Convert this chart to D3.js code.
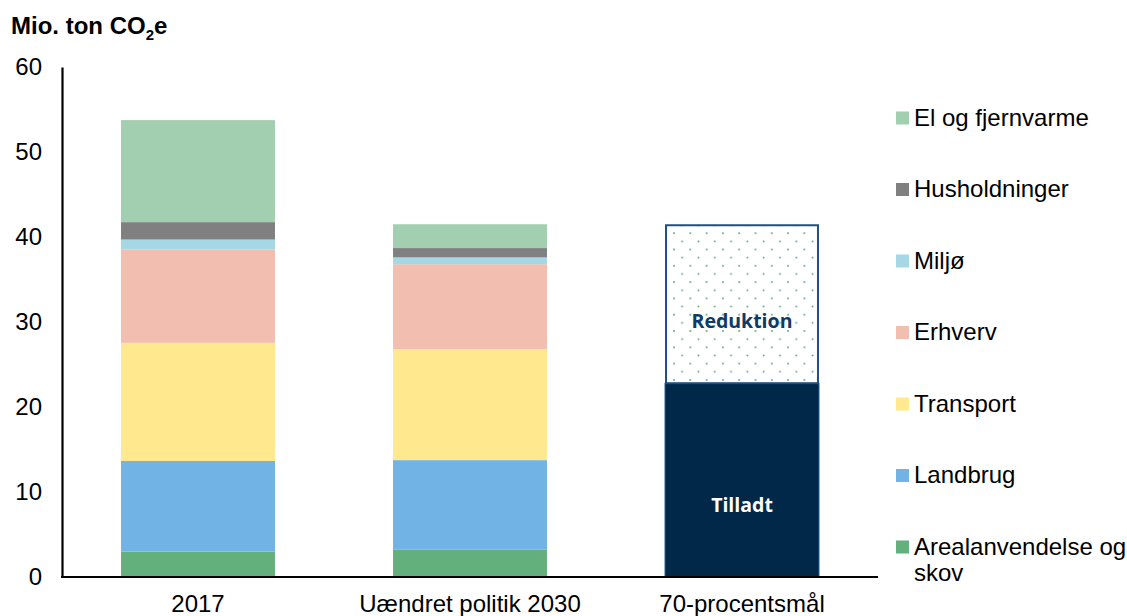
<!DOCTYPE html>
<html>
<head>
<meta charset="utf-8">
<script src="https://cdn.jsdelivr.net/npm/d3@7"></script>
<style>
  body { margin: 0; background: #fff; }
  svg { display: block; }
</style>
</head>
<body>
<svg id="chart" width="1127" height="616"></svg>
<script>
// Emission categories (x axis)
const categories = ["2017", "Uændret politik 2030", "70-procentsmål"];

// Sector series, bottom to top of the stack (Mio. ton CO2e)
const sectors = ["Arealanvendelse og skov", "Landbrug", "Transport", "Erhverv", "Miljø", "Husholdninger", "El og fjernvarme"];
const sectorColors = ["#63b07d", "#72b3e5", "#ffe88e", "#f2beb0", "#a6d7e4", "#808080", "#a2cfb0"];
const arealanvendelse = [3.0, 3.2];
const landbrug = [10.65, 10.55];
const transport = [13.9, 13.05];
const erhverv = [11.0, 10.0];
const miljo = [1.15, 0.8];
const husholdninger = [2.05, 1.1];
const elFjernvarme = [12.0, 2.8];

// Target bar: allowed emissions and required reduction
const tilladt = 22.8;
const reduktion = 18.7;

const yTicks = [0, 10, 20, 30, 40, 50, 60];

const seriesValues = [arealanvendelse, landbrug, transport, erhverv, miljo, husholdninger, elFjernvarme];

const svg = d3.select("#chart");
const fontFamily = "'Liberation Sans', Arial, sans-serif";
const fontSize = 24;

const x = d3.scaleBand()
  .domain(categories)
  .range([62, 878])
  .paddingInner(0.434)
  .paddingOuter(0.217);

const y = d3.scaleLinear().domain([0, 60]).range([577, 67]);

// dotted pattern for the reduction box
const defs = svg.append("defs");
const pat = defs.append("pattern")
  .attr("id", "dots")
  .attr("patternUnits", "userSpaceOnUse")
  .attr("width", 16.3).attr("height", 16.3)
  .attr("x", x(categories[2]) + 8).attr("y", y(reduktion + tilladt) + 8);
pat.append("rect").attr("width", 16.3).attr("height", 16.3).attr("fill", "#fff");
pat.append("circle").attr("cx", 1).attr("cy", 1).attr("r", 1).attr("fill", "#5ea97c");
pat.append("circle").attr("cx", 9.15).attr("cy", 9.15).attr("r", 1).attr("fill", "#5ea97c");

// Stacked sector bars
const stackRows = categories.slice(0, 2).map((c, i) => {
  const row = { cat: c };
  sectors.forEach((s, j) => row[s] = seriesValues[j][i]);
  return row;
});
const stacked = d3.stack().keys(sectors)(stackRows);

svg.append("g").selectAll("g")
  .data(stacked)
  .join("g")
  .attr("fill", (d, i) => sectorColors[i])
  .selectAll("rect")
  .data(d => d)
  .join("rect")
  .attr("x", d => x(d.data.cat))
  .attr("width", x.bandwidth())
  .attr("y", d => y(d[1]))
  .attr("height", d => y(d[0]) - y(d[1]));

// Target bar
const tx = x(categories[2]);
svg.append("rect")
  .attr("x", tx).attr("width", x.bandwidth())
  .attr("y", y(tilladt)).attr("height", y(0) - y(tilladt))
  .attr("fill", "#012749")
  .attr("stroke", "#1f5a92").attr("stroke-width", 1);
svg.append("rect")
  .attr("x", tx + 1).attr("width", x.bandwidth() - 2)
  .attr("y", y(tilladt + reduktion) + 1).attr("height", y(tilladt) - y(tilladt + reduktion) - 1)
  .attr("fill", "url(#dots)")
  .attr("stroke", "#1f4f86").attr("stroke-width", 2);

svg.append("text")
  .attr("x", tx + x.bandwidth() / 2).attr("y", y(tilladt + reduktion * 0.39) + 7)
  .attr("text-anchor", "middle")
  .attr("font-family", "'Open Sans', sans-serif").attr("font-weight", "bold")
  .attr("font-size", 19.5).attr("fill", "#0d3a66")
  .text("Reduktion");
svg.append("text")
  .attr("x", tx + x.bandwidth() / 2).attr("y", y(tilladt * 0.37) + 7)
  .attr("text-anchor", "middle")
  .attr("font-family", "'Open Sans', sans-serif").attr("font-weight", "bold")
  .attr("font-size", 19.5).attr("fill", "#ffffff")
  .text("Tilladt");

// Y axis
const yAxis = svg.append("g")
  .attr("transform", "translate(62,0)")
  .call(d3.axisLeft(y).tickValues(yTicks).tickSize(0).tickPadding(20));
yAxis.select(".domain").attr("stroke", "#000").attr("stroke-width", 2.2);
yAxis.selectAll("text")
  .attr("font-family", fontFamily).attr("font-size", fontSize).attr("fill", "#000");

// X axis
const xAxis = svg.append("g")
  .attr("transform", "translate(0,577)")
  .call(d3.axisBottom(x).tickSize(0).tickPadding(18));
xAxis.select(".domain").attr("stroke", "#000").attr("stroke-width", 2.2)
  .attr("d", "M61,0H878");
xAxis.selectAll("text")
  .attr("font-family", fontFamily).attr("font-size", fontSize).attr("fill", "#000")
  .attr("dy", "0.71em");

// Unit title
const title = svg.append("text")
  .attr("x", 11).attr("y", 33.5)
  .attr("font-family", fontFamily).attr("font-weight", "bold")
  .attr("font-size", fontSize).attr("fill", "#000");
title.append("tspan").text("Mio. ton CO");
title.append("tspan").attr("font-size", 15).attr("dy", 6).text("2");
title.append("tspan").attr("dy", -6).text("e");

// Legend, top to bottom
const legendItems = sectors.map((s, i) => ({ name: s, color: sectorColors[i] })).reverse();
const legend = svg.append("g");
legendItems.forEach((d, i) => {
  const cy = 118 + i * 71.5;
  legend.append("rect")
    .attr("x", 896).attr("y", cy - 6.5).attr("width", 13).attr("height", 13)
    .attr("fill", d.color);
  const t = legend.append("text")
    .attr("x", 914).attr("y", cy + 7.5)
    .attr("font-family", fontFamily).attr("font-size", fontSize).attr("fill", "#000");
  if (d.name === "Arealanvendelse og skov") {
    t.append("tspan").attr("x", 914).text("Arealanvendelse og");
    t.append("tspan").attr("x", 914).attr("dy", 26.5).text("skov");
  } else {
    t.text(d.name);
  }
});
</script>
</body>
</html>
